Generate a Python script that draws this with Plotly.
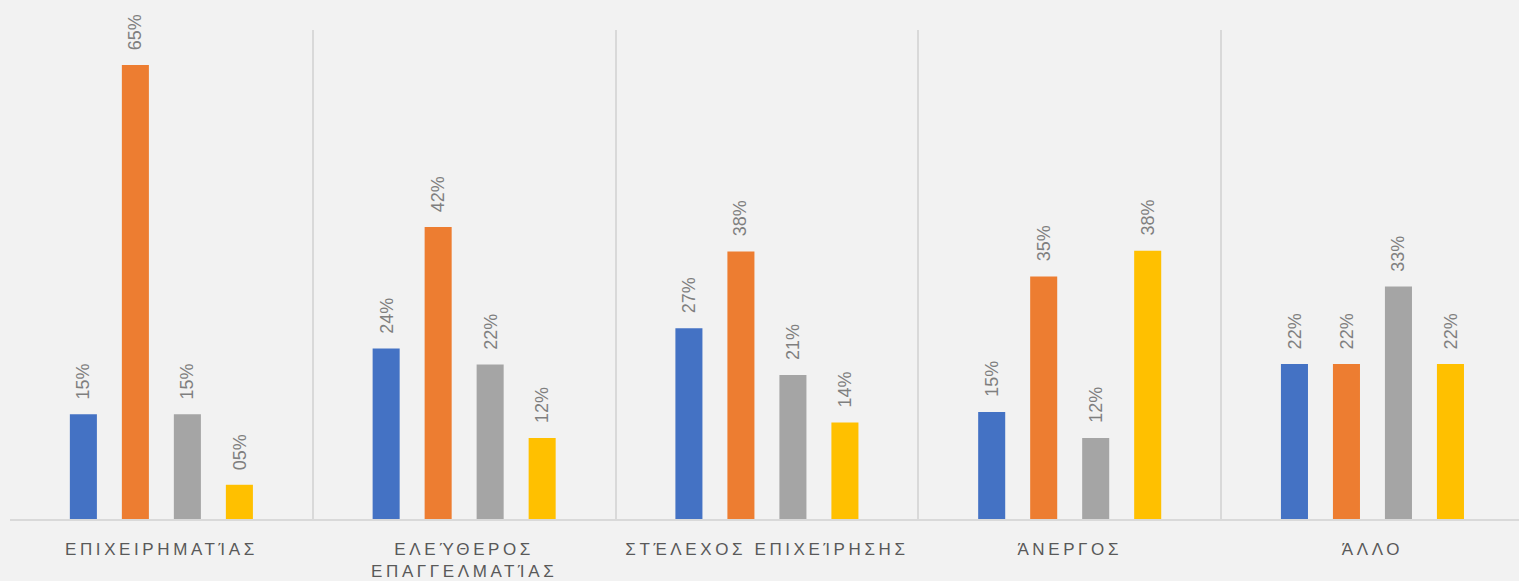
import plotly.graph_objects as go

categories = ["ΕΠΙΧΕΙΡΗΜΑΤΊΑΣ", "ΕΛΕΎΘΕΡΟΣ<br>ΕΠΑΓΓΕΛΜΑΤΊΑΣ", "ΣΤΈΛΕΧΟΣ ΕΠΙΧΕΊΡΗΣΗΣ", "ΆΝΕΡΓΟΣ", "ΆΛΛΟ"]
series_1 = [0.15, 0.244, 0.273, 0.153, 0.222]
series_2 = [0.65, 0.418, 0.383, 0.347, 0.222]
series_3 = [0.15, 0.221, 0.206, 0.116, 0.333]
series_4 = [0.049, 0.116, 0.138, 0.384, 0.222]
series_names = ["Σειρά 1", "Σειρά 2", "Σειρά 3", "Σειρά 4"]
colors = ["#4472C4", "#ED7D31", "#A5A5A5", "#FFC000"]

all_series = [series_1, series_2, series_3, series_4]

W, H = 1519, 581
ML, MR, MT, MB = 10, 0, 30, 62
BARGAP = 0.313
BARGROUPGAP = 0.48
X_RANGE = [-0.5, 4.484]

fig = go.Figure()
for name, vals, col in zip(series_names, all_series, colors):
    fig.add_trace(go.Bar(
        x=categories, y=vals, name=name,
        marker=dict(color=col, line=dict(width=0)),
        showlegend=False, hoverinfo="x+y",
    ))

plot_w = W - ML - MR
cat_w = plot_w / (X_RANGE[1] - X_RANGE[0])
slot = cat_w * (1 - BARGAP) / len(all_series)

annotations = []
for i, vals in enumerate(all_series):
    shift = (i - (len(all_series) - 1) / 2) * slot
    for c, v in zip(categories, vals):
        annotations.append(dict(
            x=c, y=v, xref="x", yref="y",
            text=f"{round(v * 100):02d}%",
            textangle=-90, showarrow=False,
            xanchor="center", yanchor="bottom",
            xshift=shift, yshift=13,
            font=dict(family="Liberation Sans", size=18, color="#7F7F7F"),
        ))

fig.update_layout(
    width=W, height=H,
    margin=dict(l=ML, r=MR, t=MT, b=MB),
    paper_bgcolor="#F2F2F2", plot_bgcolor="#F2F2F2",
    barmode="group", bargap=BARGAP, bargroupgap=BARGROUPGAP,
    annotations=annotations,
    xaxis=dict(
        type="category", tickson="boundaries", range=X_RANGE,
        showgrid=True, gridcolor="#D9D9D9", gridwidth=1.5,
        showline=True, linecolor="#D9D9D9", linewidth=1.5,
        ticks="", ticklabelstandoff=14,
        tickfont=dict(family="Liberation Sans", size=17, color="#595959"),
    ),
    yaxis=dict(range=[0, 0.70], visible=False, showgrid=False, zeroline=False),
)

post = """
document.body.style.margin='0';
document.body.style.background='#F2F2F2';
document.querySelectorAll('.xtick text').forEach(function(t){ t.style.letterSpacing='3.6px'; });
"""
fig.write_html("out.html", post_script=post, config={"displayModeBar": False})
